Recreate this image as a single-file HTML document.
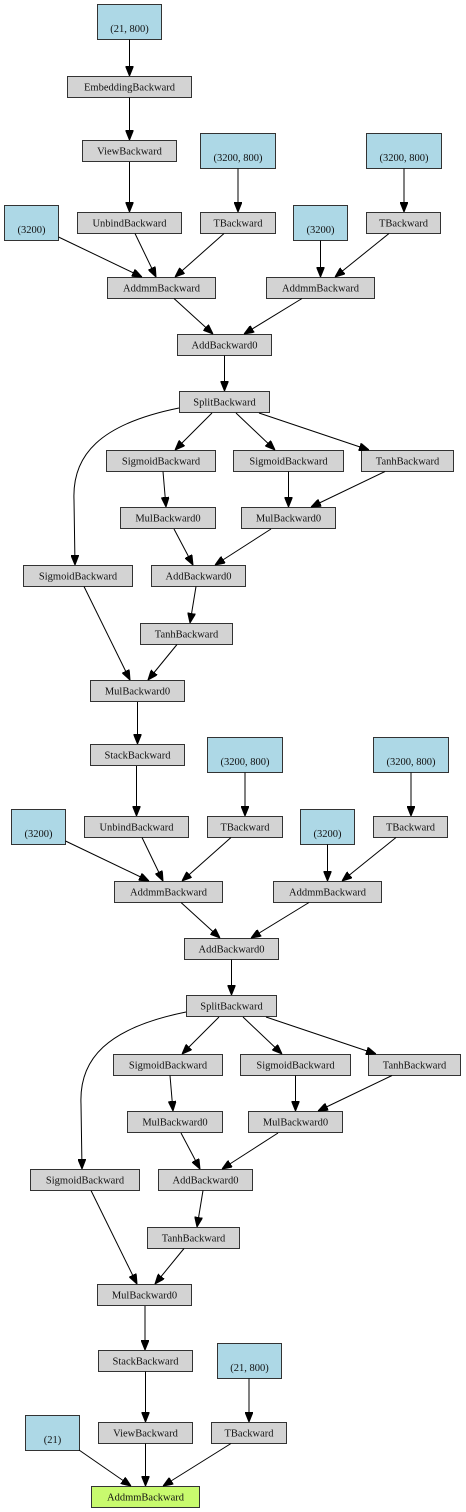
<!DOCTYPE html>
<html><head><meta charset="utf-8"><style>
html,body{margin:0;padding:0;background:#fff}
svg{display:block}
rect{stroke:#333;stroke-width:1}
.g{fill:#d3d3d3}.b{fill:#add8e6}.l{fill:#c8fa6e}
text{font-family:"Liberation Serif",serif;font-size:10.5px;fill:#111;text-anchor:middle}
line,path{stroke:#000;stroke-width:1;fill:none}
</style></head><body>
<svg width="466" height="1512" viewBox="0 0 466 1512" xmlns="http://www.w3.org/2000/svg">
<defs>
<marker id="a" markerUnits="userSpaceOnUse" markerWidth="10" markerHeight="8" refX="10" refY="4" orient="auto"><path d="M0,0 L10,4 L0,8 Z" style="fill:#000;stroke:#000"/></marker>
</defs>
<rect class="b" x="97.5" y="4.5" width="64" height="35"/><text x="129.5" y="32">(21, 800)</text>
<rect class="g" x="67.5" y="76.5" width="124" height="21"/><text x="129.5" y="90.5">EmbeddingBackward</text>
<rect class="g" x="82.5" y="140.5" width="94" height="21"/><text x="129.5" y="154.5">ViewBackward</text>
<line x1="129.5" y1="39.5" x2="129.5" y2="76" marker-end="url(#a)"/>
<line x1="129.5" y1="97.5" x2="129.5" y2="140" marker-end="url(#a)"/>

<g id="blk">
<line x1="129.5" y1="162" x2="129.5" y2="212" marker-end="url(#a)"/>
<rect class="b" x="200.5" y="133.5" width="75" height="35"/><text x="238" y="161">(3200, 800)</text>
<rect class="b" x="366.5" y="133.5" width="75" height="35"/><text x="404" y="161">(3200, 800)</text>
<rect class="b" x="4.5" y="205.5" width="54" height="35"/><text x="31.5" y="233">(3200)</text>
<rect class="g" x="77.5" y="212.5" width="104" height="21"/><text x="129.5" y="226.5">UnbindBackward</text>
<rect class="g" x="200.5" y="212.5" width="75" height="21"/><text x="238" y="226.5">TBackward</text>
<rect class="b" x="293.5" y="205.5" width="54" height="35"/><text x="320.5" y="233">(3200)</text>
<rect class="g" x="366.5" y="212.5" width="74" height="21"/><text x="403.5" y="226.5">TBackward</text>
<rect class="g" x="107.5" y="277.5" width="108" height="21"/><text x="161.5" y="291.5">AddmmBackward</text>
<rect class="g" x="266.5" y="277.5" width="108" height="21"/><text x="320.5" y="291.5">AddmmBackward</text>
<rect class="g" x="177.5" y="334.5" width="94" height="21"/><text x="224.5" y="348.5">AddBackward0</text>
<rect class="g" x="179.5" y="391.5" width="90" height="21"/><text x="224.5" y="405.5">SplitBackward</text>
<rect class="g" x="106.5" y="450.5" width="109" height="21"/><text x="161" y="464.5">SigmoidBackward</text>
<rect class="g" x="233.5" y="450.5" width="110" height="21"/><text x="288.5" y="464.5">SigmoidBackward</text>
<rect class="g" x="361.5" y="450.5" width="92" height="21"/><text x="407.5" y="464.5">TanhBackward</text>
<rect class="g" x="120.5" y="507.5" width="95" height="21"/><text x="168" y="521.5">MulBackward0</text>
<rect class="g" x="241.5" y="507.5" width="94" height="21"/><text x="288.5" y="521.5">MulBackward0</text>
<rect class="g" x="23.5" y="565.5" width="109" height="21"/><text x="78" y="579.5">SigmoidBackward</text>
<rect class="g" x="151.5" y="565.5" width="94" height="21"/><text x="198.5" y="579.5">AddBackward0</text>
<rect class="g" x="140.5" y="623.5" width="92" height="21"/><text x="186.5" y="637.5">TanhBackward</text>
<rect class="g" x="90.5" y="680.5" width="94" height="21"/><text x="137.5" y="694.5">MulBackward0</text>
<line x1="238" y1="168.5" x2="238" y2="212" marker-end="url(#a)"/>
<line x1="404" y1="168.5" x2="404" y2="212" marker-end="url(#a)"/>
<line x1="58.5" y1="237" x2="142" y2="277" marker-end="url(#a)"/>
<line x1="135" y1="233.5" x2="156" y2="277" marker-end="url(#a)"/>
<line x1="224" y1="233.5" x2="175" y2="277" marker-end="url(#a)"/>
<line x1="320.5" y1="240.5" x2="320.5" y2="277" marker-end="url(#a)"/>
<line x1="389" y1="233.5" x2="335" y2="277" marker-end="url(#a)"/>
<line x1="174" y1="298.5" x2="213" y2="334" marker-end="url(#a)"/>
<line x1="302" y1="298.5" x2="244" y2="334" marker-end="url(#a)"/>
<line x1="224.5" y1="355.5" x2="224.5" y2="391" marker-end="url(#a)"/>
<line x1="212" y1="413" x2="175" y2="450" marker-end="url(#a)"/>
<line x1="236" y1="413" x2="275" y2="450" marker-end="url(#a)"/>
<line x1="259" y1="413" x2="369" y2="450" marker-end="url(#a)"/>
<path d="M179,408 C100,424 72,455 74,500 L75,565" marker-end="url(#a)"/>
<line x1="163" y1="471.5" x2="166" y2="507" marker-end="url(#a)"/>
<line x1="288.5" y1="471.5" x2="288.5" y2="507" marker-end="url(#a)"/>
<line x1="385" y1="471.5" x2="311" y2="507" marker-end="url(#a)"/>
<line x1="174" y1="529" x2="193" y2="565" marker-end="url(#a)"/>
<line x1="271" y1="529" x2="215" y2="565" marker-end="url(#a)"/>
<line x1="196" y1="586.5" x2="190" y2="623" marker-end="url(#a)"/>
<line x1="84" y1="586.5" x2="130" y2="680" marker-end="url(#a)"/>
<line x1="177" y1="644.5" x2="148" y2="680" marker-end="url(#a)"/>
</g>
<line x1="137.5" y1="702" x2="137.5" y2="744" marker-end="url(#a)"/>
<rect class="g" x="90.5" y="744.5" width="94" height="21"/><text x="137.5" y="758.5">StackBackward</text>

<use href="#blk" transform="translate(7,604)"/>

<line x1="145" y1="1306" x2="145" y2="1350" marker-end="url(#a)"/>
<rect class="g" x="98.5" y="1350.5" width="94" height="21"/><text x="145.5" y="1364.5">StackBackward</text>
<rect class="b" x="217.5" y="1343.5" width="64" height="35"/><text x="249.5" y="1371">(21, 800)</text>
<rect class="b" x="25.5" y="1415.5" width="54" height="35"/><text x="52.5" y="1443">(21)</text>
<rect class="g" x="98.5" y="1422.5" width="94" height="21"/><text x="145.5" y="1436.5">ViewBackward</text>
<rect class="g" x="211.5" y="1422.5" width="75" height="21"/><text x="249" y="1436.5">TBackward</text>
<rect class="l" x="91.5" y="1486.5" width="108" height="21"/><text x="145.5" y="1500.5">AddmmBackward</text>
<line x1="145.5" y1="1371.5" x2="145.5" y2="1422" marker-end="url(#a)"/>
<line x1="249" y1="1378.5" x2="249" y2="1422" marker-end="url(#a)"/>
<line x1="79" y1="1450" x2="131" y2="1486" marker-end="url(#a)"/>
<line x1="145.5" y1="1443.5" x2="145.5" y2="1486" marker-end="url(#a)"/>
<line x1="231" y1="1443.5" x2="163" y2="1486" marker-end="url(#a)"/>
</svg>
</body></html>
